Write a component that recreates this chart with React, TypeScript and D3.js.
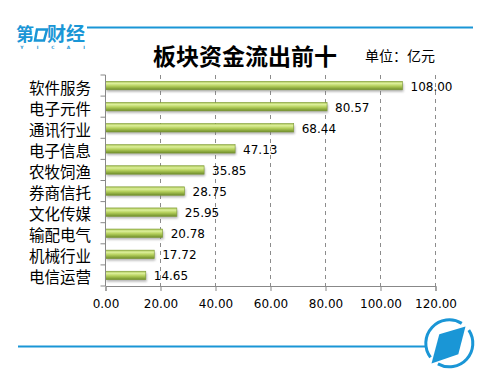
import { useEffect, useRef } from 'react';
import * as d3 from 'd3';

const categories = ['软件服务', '电子元件', '通讯行业', '电子信息', '农牧饲渔', '券商信托', '文化传媒', '输配电气', '机械行业', '电信运营'];
const values = [108.0, 80.57, 68.44, 47.13, 35.85, 28.75, 25.95, 20.78, 17.72, 14.65];
const xTicks = [0, 20, 40, 60, 80, 100, 120];
const logoLetters = ['Y', 'I', 'C', 'A', 'I'];

const W = 500;
const H = 386;
const PLOT = { left: 105.5, right: 435.5, top: 75, bottom: 286 };
const BLUE = '#1a96d6';
const CJK = '"Noto Sans CJK SC", "Noto Sans", sans-serif';
const NUM = '"DejaVu Sans", Verdana, sans-serif';

export default function App() {
  const svgRef = useRef<SVGSVGElement>(null);

  useEffect(() => {
    const svg = d3.select(svgRef.current);
    svg.selectAll('*').remove();

    const defs = svg.append('defs');
    const grad = defs.append('linearGradient').attr('id', 'barGrad').attr('x1', 0).attr('y1', 0).attr('x2', 0).attr('y2', 1);
    [
      [0, '#a9c455'],
      [0.25, '#dcef9a'],
      [0.55, '#b5d05c'],
      [1, '#6f8d2a'],
    ].forEach(([o, c]) => grad.append('stop').attr('offset', o as number).attr('stop-color', c as string));
    const blur = defs.append('filter').attr('id', 'shadow').attr('x', '-5%').attr('y', '-50%').attr('width', '110%').attr('height', '200%');
    blur.append('feGaussianBlur').attr('stdDeviation', 1.2);

    const x = d3.scaleLinear().domain([0, 120]).range([PLOT.left, PLOT.right]);
    const y = d3.scaleBand<string>().domain(categories).range([PLOT.top, PLOT.bottom]).paddingInner(0.6).paddingOuter(0.3);

    // top header line and logo
    svg.append('line').attr('x1', 87).attr('x2', 473).attr('y1', 27.5).attr('y2', 27.5).attr('stroke', BLUE).attr('stroke-width', 2);
    const logo = svg.append('g').attr('fill', BLUE);
    logo.append('text').attr('x', 16).attr('y', 41).attr('font-family', CJK).attr('font-weight', 700).attr('font-size', 18).text('第');
    logo.append('path').attr('d', 'M37,29.5 L47,29.5 L44,40.5 L35,40.5 Z').attr('fill', 'none').attr('stroke', BLUE).attr('stroke-width', 2.5);
    logo.append('text').attr('x', 47).attr('y', 41).attr('font-family', CJK).attr('font-weight', 700).attr('font-size', 19).text('财经');
    logoLetters.forEach((ch, i) => {
      logo.append('text').attr('x', 22 + i * 15.5).attr('y', 49).attr('font-family', NUM).attr('font-size', 4.5).attr('font-weight', 700).attr('text-anchor', 'middle').text(ch);
    });

    // titles
    svg.append('text').attr('x', 245).attr('y', 55).attr('dominant-baseline', 'central').attr('text-anchor', 'middle')
      .attr('font-family', CJK).attr('font-weight', 700).attr('font-size', 23).attr('fill', '#000').text('板块资金流出前十');
    svg.append('text').attr('x', 365).attr('y', 55).attr('dominant-baseline', 'central')
      .attr('font-family', CJK).attr('font-size', 14).attr('fill', '#000').text('单位：亿元');

    // gridlines
    svg.append('g').selectAll('line').data(xTicks.slice(1)).enter().append('line')
      .attr('x1', (d) => x(d)).attr('x2', (d) => x(d)).attr('y1', PLOT.top).attr('y2', PLOT.bottom)
      .attr('stroke', '#8c8c8c').attr('stroke-width', 1).attr('stroke-dasharray', '4,4');

    // bars
    const bars = svg.append('g');
    categories.forEach((c, i) => {
      const by = y(c)!;
      const bh = y.bandwidth();
      bars.append('rect').attr('x', x(0) + 1).attr('y', by + 2).attr('width', x(values[i]) - x(0)).attr('height', bh)
        .attr('fill', '#777').attr('opacity', 0.55).attr('filter', 'url(#shadow)');
      bars.append('rect').attr('x', x(0)).attr('y', by).attr('width', x(values[i]) - x(0)).attr('height', bh)
        .attr('fill', 'url(#barGrad)').attr('stroke', '#7e9a35').attr('stroke-width', 0.6);
      bars.append('text').attr('x', x(values[i]) + 8).attr('y', by + bh / 2 + 1).attr('dominant-baseline', 'central')
        .attr('font-family', NUM).attr('font-size', 12).attr('fill', '#000').text(values[i].toFixed(2));
    });

    // y axis
    const yAxis = svg.append('g').attr('transform', `translate(${PLOT.left},0)`);
    yAxis.append('line').attr('x1', 0).attr('x2', 0).attr('y1', PLOT.top).attr('y2', PLOT.bottom).attr('stroke', '#888');
    const step = (PLOT.bottom - PLOT.top) / categories.length;
    d3.range(categories.length + 1).forEach((i) => {
      yAxis.append('line').attr('x1', -5).attr('x2', 0).attr('y1', PLOT.top + i * step).attr('y2', PLOT.top + i * step).attr('stroke', '#888');
    });
    categories.forEach((c) => {
      svg.append('text').attr('x', 91).attr('y', y(c)! + y.bandwidth() / 2 + 1).attr('dominant-baseline', 'central').attr('text-anchor', 'end')
        .attr('font-family', CJK).attr('font-size', 15.5).attr('fill', '#000').text(c);
    });

    // x axis
    const xAxis = d3.axisBottom(x).tickValues(xTicks).tickSize(5).tickPadding(8).tickFormat((d) => (d as number).toFixed(2));
    const xg = svg.append('g').attr('transform', `translate(0,${PLOT.bottom})`).call(xAxis);
    xg.select('.domain').attr('stroke', '#888');
    xg.selectAll('.tick line').attr('stroke', '#888');
    xg.selectAll('.tick text').attr('font-family', NUM).attr('font-size', 12).attr('fill', '#000');

    // bottom line and emblem
    svg.append('line').attr('x1', 18).attr('x2', 425).attr('y1', 346.5).attr('y2', 346.5).attr('stroke', BLUE).attr('stroke-width', 2);
    const cx = 449.3;
    const cy = 343.3;
    const deg = Math.PI / 180;
    const ring = d3.arc<{ s: number; e: number }>().innerRadius(22).outerRadius(25).startAngle((d) => d.s).endAngle((d) => d.e);
    svg.append('g').attr('transform', `translate(${cx},${cy})`).selectAll('path')
      .data([{ s: 56 * deg, e: 209 * deg }, { s: 233 * deg, e: 392 * deg }]).enter().append('path')
      .attr('d', (d) => ring(d)!).attr('fill', BLUE);
    svg.append('path').attr('d', 'M439.3,334.3 L465.5,326.5 L458.3,354.3 L431.5,363.5 Z').attr('fill', BLUE);
  }, []);

  return (
    <div style={{ width: W, height: H, margin: -8, background: '#fff' }}>
      <svg ref={svgRef} width={W} height={H} />
    </div>
  );
}
